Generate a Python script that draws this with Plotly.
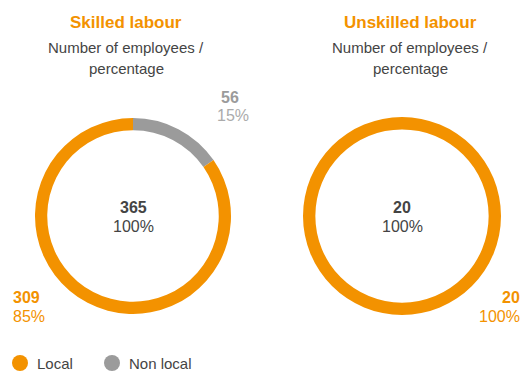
import plotly.graph_objects as go

W, H = 531, 372
ORANGE = "#F39200"
GREY = "#9B9B9B"
DARK = "#444444"
FONT = "Liberation Sans, Arial, sans-serif"

labels = ["Non local", "Local"]
skilled_values = [56, 309]
skilled_pct = ["15%", "85%"]
unskilled_values = [0, 20]
unskilled_pct = ["0%", "100%"]
titles = ["Skilled labour", "Unskilled labour"]
colors = [GREY, ORANGE]

def px(x):
    return x / W

def py(y):
    return 1 - y / H

fig = go.Figure()
fig.add_trace(go.Pie(labels=labels, values=skilled_values, hole=0.875, sort=False,
                     direction="clockwise", rotation=0, marker=dict(colors=colors, line=dict(width=0)),
                     textinfo="none", hoverinfo="label+value+percent", showlegend=False,
                     domain=dict(x=[px(35), px(231)], y=[py(315), py(117)])))
fig.add_trace(go.Pie(labels=labels, values=unskilled_values, hole=0.875, sort=False,
                     direction="clockwise", rotation=0, marker=dict(colors=colors, line=dict(width=0)),
                     textinfo="none", hoverinfo="label+value+percent", showlegend=False,
                     domain=dict(x=[px(303), px(501)], y=[py(315), py(117)])))

ann = []
def text(x, y, s, size, color, bold=False, xanchor="center"):
    ann.append(dict(x=px(x), y=py(y), xref="paper", yref="paper", text=(f"<b>{s}</b>" if bold else s),
                    showarrow=False, xanchor=xanchor, yanchor="middle",
                    font=dict(family=FONT, size=size, color=color)))

# titles
text(126, 23, titles[0], 17, ORANGE, True)
text(410, 23, titles[1], 17, ORANGE, True)
for cx in (126, 410):
    text(cx, 47, "Number of employees /", 15, DARK)
    text(cx, 68, "percentage", 15, DARK)

# centre totals
text(133, 208, str(sum(skilled_values)), 16, DARK, True)
text(133, 226, "100%", 16, DARK)
text(402, 208, str(sum(unskilled_values)), 16, DARK, True)
text(402, 226, "100%", 16, DARK)

# slice labels
text(219, 97, str(skilled_values[0]), 16, GREY, True, "left")
text(215, 116, skilled_pct[0], 16, "#ABABAB", False, "left")
text(11, 297, str(skilled_values[1]), 16, ORANGE, True, "left")
text(11, 316, skilled_pct[1], 16, ORANGE, False, "left")
text(522, 297, str(unskilled_values[1]), 16, ORANGE, True, "right")
text(522, 316, unskilled_pct[1], 16, ORANGE, False, "right")

# legend
shapes = []
legend_items = [("Local", ORANGE, 12), ("Non local", GREY, 104)]
for name, col, lx in legend_items:
    shapes.append(dict(type="circle", xref="paper", yref="paper",
                       x0=px(lx), x1=px(lx + 16), y0=py(371), y1=py(355),
                       fillcolor=col, line=dict(width=0)))
    text(lx + 23, 363, name, 15, DARK, False, "left")

fig.update_layout(width=W, height=H, margin=dict(l=0, r=0, t=0, b=0),
                  paper_bgcolor="white", plot_bgcolor="white",
                  annotations=ann, shapes=shapes, showlegend=False,
                  font=dict(family=FONT))
fig.write_html("out.html", config={"displayModeBar": False})

with open("out.html", encoding="utf-8") as f:
    html = f.read()
html = html.replace("<head>", "<head><style>html,body{margin:0;padding:0;overflow:hidden;}</style>", 1)
with open("out.html", "w", encoding="utf-8") as f:
    f.write(html)
